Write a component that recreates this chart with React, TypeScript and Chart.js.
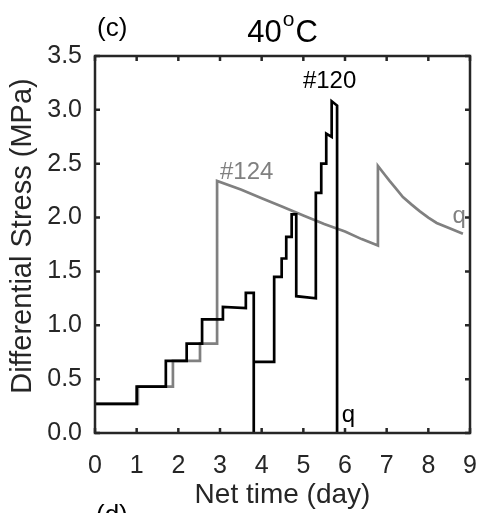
import React, { useEffect, useRef } from 'react';
import { Chart, registerables } from 'chart.js';

Chart.register(...registerables);

// Sample #120 (black): net time (day) and differential stress (MPa)
const time120 = [0, 1.0, 1.0, 1.7, 1.7, 2.2, 2.2, 2.57, 2.57, 3.07, 3.07, 3.62, 3.62, 3.81, 3.81, 3.81, 4.3, 4.3, 4.48, 4.48, 4.59, 4.59, 4.72, 4.72, 4.83, 4.83, 5.3, 5.3, 5.43, 5.43, 5.55, 5.55, 5.68, 5.68, 5.81, 5.81];
const stress120 = [0.27, 0.27, 0.43, 0.43, 0.67, 0.67, 0.83, 0.83, 1.055, 1.055, 1.17, 1.16, 1.3, 1.3, 0, 0.66, 0.66, 1.45, 1.45, 1.62, 1.62, 1.82, 1.82, 2.03, 2.03, 1.27, 1.25, 2.23, 2.23, 2.5, 2.5, 2.78, 2.75, 3.08, 3.04, 0];

// Sample #124 (gray)
const time124 = [0, 1.03, 1.03, 1.87, 1.87, 2.52, 2.52, 2.93, 2.93, 3.5, 4.0, 4.5, 5.0, 5.5, 6.0, 6.4, 6.79, 6.79, 6.95, 7.07, 7.2, 7.39, 7.6, 7.79, 8.0, 8.2, 8.51, 8.83];
const stress124 = [0.27, 0.27, 0.43, 0.43, 0.67, 0.67, 0.83, 0.83, 2.34, 2.26, 2.18, 2.1, 2.02, 1.94, 1.87, 1.8, 1.74, 2.48, 2.4, 2.34, 2.28, 2.19, 2.12, 2.06, 2.0, 1.95, 1.9, 1.85];

const xTicks = [0, 1, 2, 3, 4, 5, 6, 7, 8, 9];
const yTicks = [0, 0.5, 1.0, 1.5, 2.0, 2.5, 3.0, 3.5];

// Annotations
const labelTexts = ['#124', '#120', 'q', 'q'];
const labelX = [3.0, 4.99, 8.58, 5.92];
const labelY = [2.36, 3.2, 1.95, 0.1];
const labelColors = ['#808080', '#000000', '#808080', '#000000'];

const FONT = '"Liberation Sans", Arial, Helvetica, sans-serif';
const AXIS = '#262626';
const GRAY = '#808080';

const framePlugin = {
  id: 'frameAndText',
  afterDatasetsDraw(chart: any) {
    const { ctx, chartArea } = chart;
    const { left, right, top, bottom } = chartArea;
    const xs = chart.scales.x;
    const ys = chart.scales.y;
    ctx.save();
    // frame
    ctx.strokeStyle = AXIS;
    ctx.lineWidth = 2.5;
    ctx.lineCap = 'butt';
    ctx.strokeRect(left, top, right - left, bottom - top);
    // inner ticks
    const tl = 5;
    ctx.beginPath();
    xTicks.forEach((v) => {
      const px = xs.getPixelForValue(v);
      ctx.moveTo(px, bottom);
      ctx.lineTo(px, bottom - tl);
      ctx.moveTo(px, top);
      ctx.lineTo(px, top + tl);
    });
    yTicks.forEach((v) => {
      const py = ys.getPixelForValue(v);
      ctx.moveTo(left, py);
      ctx.lineTo(left + tl, py);
      ctx.moveTo(right, py);
      ctx.lineTo(right - tl, py);
    });
    ctx.stroke();

    // annotations
    ctx.textAlign = 'left';
    ctx.textBaseline = 'alphabetic';
    ctx.font = `24px ${FONT}`;
    labelTexts.forEach((t, i) => {
      ctx.fillStyle = labelColors[i];
      ctx.fillText(t, xs.getPixelForValue(labelX[i]), ys.getPixelForValue(labelY[i]));
    });

    // title 40°C with superscript o
    const big = `31px ${FONT}`;
    const small = `21px ${FONT}`;
    ctx.fillStyle = '#000';
    ctx.font = big;
    const w1 = ctx.measureText('40').width;
    const w3 = ctx.measureText('C').width;
    ctx.font = small;
    const w2 = ctx.measureText('o').width;
    const total = w1 + w2 + w3 + 2;
    const x0 = (left + right) / 2 - total / 2;
    const base = 42;
    ctx.font = big;
    ctx.fillText('40', x0, base);
    ctx.font = small;
    ctx.fillText('o', x0 + w1 + 1, base - 16);
    ctx.font = big;
    ctx.fillText('C', x0 + w1 + w2 + 2, base);

    // panel letters
    ctx.font = `26px ${FONT}`;
    ctx.fillText('(c)', 97, 36);
    ctx.fillText('(d)', 96, 523);

    // y axis title
    ctx.save();
    ctx.translate(23, 236);
    ctx.rotate(-Math.PI / 2);
    ctx.textAlign = 'center';
    ctx.textBaseline = 'middle';
    ctx.font = `29px ${FONT}`;
    ctx.fillStyle = AXIS;
    ctx.fillText('Differential Stress (MPa)', 0, 0);
    ctx.restore();

    ctx.restore();
  },
};

export default function App() {
  const ref = useRef<HTMLCanvasElement | null>(null);
  useEffect(() => {
    if (!ref.current) return;
    const chart = new Chart(ref.current, {
      type: 'scatter',
      data: {
        datasets: [
          {
            label: '#120',
            data: time120.map((x, i) => ({ x, y: stress120[i] })),
            showLine: true,
            borderColor: '#000000',
            backgroundColor: '#000000',
            borderWidth: 2.7,
            pointRadius: 0,
            tension: 0,
            fill: false,
          },
          {
            label: '#124',
            data: time124.map((x, i) => ({ x, y: stress124[i] })),
            showLine: true,
            borderColor: GRAY,
            backgroundColor: GRAY,
            borderWidth: 2.7,
            pointRadius: 0,
            tension: 0,
            fill: false,
          },
        ],
      },
      options: {
        animation: false,
        responsive: false,
        devicePixelRatio: 1,
        layout: { padding: { top: 56, right: 9, left: 0, bottom: 0 } },
        plugins: {
          legend: { display: false },
          tooltip: { enabled: false },
          title: { display: false },
        },
        scales: {
          x: {
            type: 'linear',
            min: 0,
            max: 9,
            afterBuildTicks: (s: any) => {
              s.ticks = xTicks.map((v) => ({ value: v }));
            },
            afterFit: (s: any) => {
              s.height = 80;
              s.paddingLeft = 0;
              s.paddingRight = 9;
            },
            ticks: {
              font: { family: FONT, size: 25 },
              color: AXIS,
              padding: 18,
              maxRotation: 0,
              autoSkip: false,
              callback: (v: any) => String(v),
            },
            grid: { display: false, drawTicks: false },
            border: { display: false },
            title: {
              display: true,
              text: 'Net time (day)',
              font: { family: FONT, size: 28 },
              color: AXIS,
              padding: { top: 0, bottom: 1 },
            },
          },
          y: {
            type: 'linear',
            min: 0,
            max: 3.5,
            afterBuildTicks: (s: any) => {
              s.ticks = yTicks.map((v) => ({ value: v }));
            },
            afterFit: (s: any) => {
              s.width = 95;
              s.paddingTop = 0;
              s.paddingBottom = 0;
            },
            ticks: {
              font: { family: FONT, size: 25 },
              color: AXIS,
              padding: 13,
              autoSkip: false,
              callback: (v: any) => Number(v).toFixed(1),
            },
            grid: { display: false, drawTicks: false },
            border: { display: false },
            title: { display: false },
          },
        },
      },
      plugins: [framePlugin],
    });
    return () => chart.destroy();
  }, []);

  return (
    <div style={{ position: 'fixed', left: 0, top: 0, width: 479, height: 513, background: '#fff', overflow: 'hidden' }}>
      <canvas ref={ref} width={479} height={513} style={{ display: 'block' }} />
    </div>
  );
}
